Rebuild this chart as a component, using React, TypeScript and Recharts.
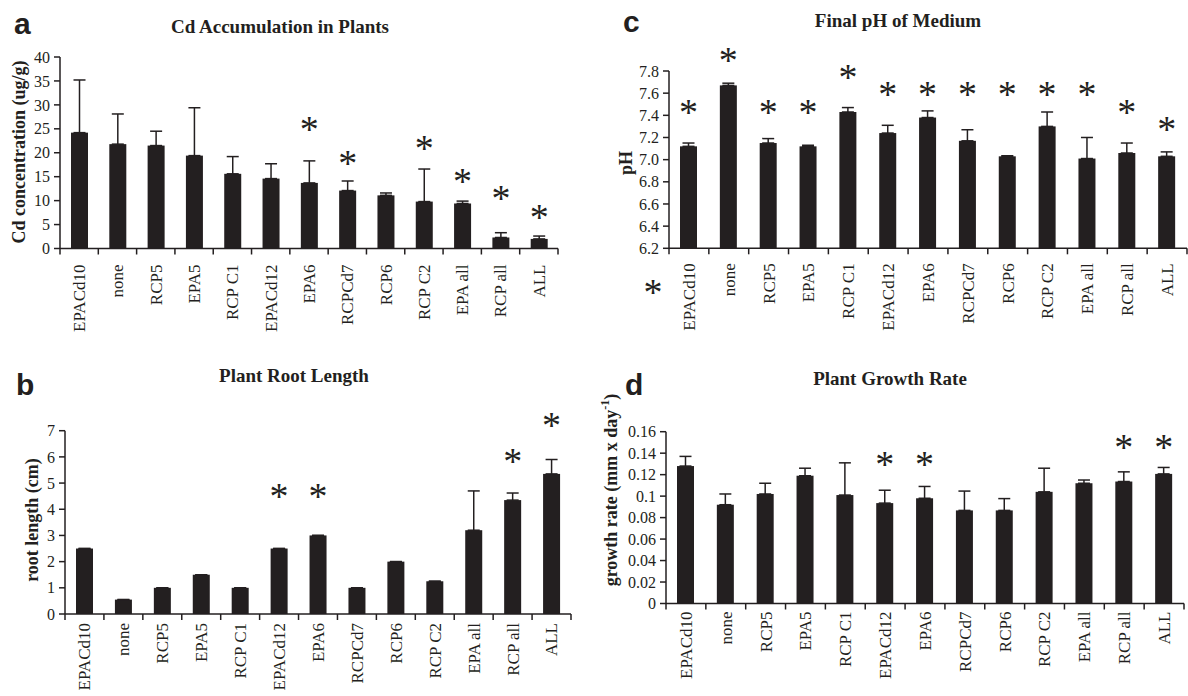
import React from "react";
import { ComposedChart, Bar, XAxis, YAxis, ErrorBar } from "recharts";

const INK = "#231f20";
const SERIF = "'Liberation Serif', 'Times New Roman', serif";
const SANS = "'Liberation Sans', Arial, sans-serif";

const categories = ["EPACd10", "none", "RCP5", "EPA5", "RCP C1", "EPACd12", "EPA6", "RCPCd7", "RCP6", "RCP C2", "EPA all", "RCP all", "ALL"];

// a: Cd accumulation
const cdValues = [24.2, 21.8, 21.5, 19.4, 15.6, 14.6, 13.7, 12.1, 11.1, 9.8, 9.4, 2.3, 2.0];
const cdErrors = [11.0, 6.3, 3.0, 10.0, 3.6, 3.1, 4.6, 2.0, 0.5, 6.8, 0.5, 1.0, 0.6];
const cdStars = [null, null, null, null, null, null, 26.0, 18.7, null, 22.0, 15.1, 11.4, 7.6];
const cdTicks = [0, 5, 10, 15, 20, 25, 30, 35, 40];

// c: final pH
const phValues = [7.12, 7.67, 7.15, 7.12, 7.43, 7.24, 7.38, 7.17, 7.03, 7.3, 7.01, 7.06, 7.03];
const phErrors = [0.03, 0.02, 0.04, 0.01, 0.04, 0.07, 0.06, 0.1, 0.005, 0.13, 0.19, 0.09, 0.04];
const phStars = [7.47, 7.94, 7.47, 7.47, 7.79, 7.63, 7.63, 7.63, 7.63, 7.63, 7.63, 7.47, 7.32];
const phTicks = [6.2, 6.4, 6.6, 6.8, 7.0, 7.2, 7.4, 7.6, 7.8];

// b: root length
const rootValues = [2.5, 0.55, 1.0, 1.5, 1.0, 2.5, 3.0, 1.0, 2.0, 1.25, 3.2, 4.35, 5.35];
const rootErrors = [0, 0, 0, 0, 0, 0, 0, 0, 0, 0, 1.5, 0.27, 0.55];
const rootStars = [null, null, null, null, null, 4.67, 4.67, null, null, null, null, 6.0, 7.37];
const rootTicks = [0, 1, 2, 3, 4, 5, 6, 7];

// d: growth rate
const growthValues = [0.128, 0.092, 0.102, 0.119, 0.101, 0.0935, 0.098, 0.0867, 0.0867, 0.104, 0.112, 0.1136, 0.1207];
const growthErrors = [0.009, 0.01, 0.01, 0.007, 0.03, 0.012, 0.011, 0.018, 0.011, 0.022, 0.003, 0.009, 0.006];
const growthStars = [null, null, null, null, null, 0.1337, 0.1337, null, null, null, null, 0.15, 0.15];
const growthTicks = [0, 0.02, 0.04, 0.06, 0.08, 0.1, 0.12, 0.14, 0.16];

const makeRows = (values: number[], errors: number[], stars: (number | null)[]) =>
  categories.map((name, i) => ({ name, mean: values[i], err: [0, errors[i]], star: stars[i] }));

const STAR_SIZE = 38;

function makeShape(base: number) {
  return (p: any) => {
    const { x, y, width, height, payload } = p;
    const cx = x + width / 2;
    let star = null;
    if (payload && payload.star != null && payload.mean > base) {
      const k = height / (payload.mean - base);
      const sy = y - (payload.star - payload.mean) * k;
      star = (
        <text x={cx} y={sy + STAR_SIZE * 0.46} textAnchor="middle" fontSize={STAR_SIZE} fontFamily={SERIF} fill={INK}>
          *
        </text>
      );
    }
    return (
      <g>
        <rect x={x} y={y} width={width} height={height} fill={INK} />
        {star}
      </g>
    );
  };
}

function makeXTick(band: number, gap: number) {
  return (p: any) => {
    const { x, y, payload, index } = p;
    const ty = y + gap;
    return (
      <g>
        <line x1={x - band / 2} x2={x - band / 2} y1={y} y2={y + 6} stroke={INK} strokeWidth={1.5} />
        {index === categories.length - 1 && (
          <line x1={x + band / 2} x2={x + band / 2} y1={y} y2={y + 6} stroke={INK} strokeWidth={1.5} />
        )}
        <text x={x} y={ty} transform={`rotate(-90, ${x}, ${ty})`} textAnchor="end" dy="0.35em" fontSize={17} fontFamily={SERIF} fill={INK}>
          {payload.value}
        </text>
      </g>
    );
  };
}

type PanelProps = {
  left: number;
  top: number;
  width: number;
  height: number;
  margin: { top: number; right: number; left: number; bottom: number };
  xHeight: number;
  rows: any[];
  ticks: number[];
  fmt: (v: number) => string;
  gap: number;
};

function Panel({ left, top, width, height, margin, xHeight, rows, ticks, fmt, gap }: PanelProps) {
  const band = (width - margin.left - margin.right - 50) / categories.length;
  const base = ticks[0];
  return (
    <div style={{ position: "absolute", left, top }}>
      <ComposedChart width={width} height={height} data={rows} margin={margin}>
        <XAxis
          dataKey="name"
          type="category"
          interval={0}
          height={xHeight}
          tickLine={false}
          tickSize={0}
          tickMargin={0}
          axisLine={{ stroke: INK, strokeWidth: 1.5 }}
          tick={makeXTick(band, gap)}
        />
        <YAxis
          width={50}
          type="number"
          domain={[ticks[0], ticks[ticks.length - 1]]}
          ticks={ticks}
          interval={0}
          tickFormatter={fmt}
          tickSize={6}
          tickMargin={4}
          axisLine={{ stroke: INK, strokeWidth: 1.5 }}
          tickLine={{ stroke: INK, strokeWidth: 1.5 }}
          tick={{ fill: INK, fontSize: 16, fontFamily: SERIF }}
        />
        <Bar dataKey="mean" fill={INK} barSize={17} isAnimationActive={false} shape={makeShape(base)}>
          <ErrorBar dataKey="err" width={6} stroke={INK} strokeWidth={1.5} direction="y" />
        </Bar>
      </ComposedChart>
    </div>
  );
}

function VLabel({ x, y, children }: { x: number; y: number; children: React.ReactNode }) {
  return (
    <text
      transform={`translate(${x}, ${y}) rotate(-90)`}
      textAnchor="middle"
      dominantBaseline="central"
      fontSize={18}
      fontWeight="bold"
      fontFamily={SERIF}
      fill={INK}
    >
      {children}
    </text>
  );
}

export default function App() {
  const titleStyle = { fontSize: 19, fontWeight: "bold", fontFamily: SERIF, fill: INK } as const;
  const letterStyle = { fontSize: 30, fontWeight: "bold", fontFamily: SANS, fill: INK } as const;
  return (
    <div style={{ position: "absolute", left: 0, top: 0, width: 1188, height: 696, background: "#fff", overflow: "hidden" }}>
      <Panel
        left={0}
        top={0}
        width={580}
        height={340}
        margin={{ top: 57, right: 22, left: 10, bottom: 11.5 }}
        xHeight={80}
        rows={makeRows(cdValues, cdErrors, cdStars)}
        ticks={cdTicks}
        fmt={(v) => String(v)}
        gap={16}
      />
      <Panel
        left={590}
        top={0}
        width={598}
        height={340}
        margin={{ top: 71, right: 1, left: 29, bottom: 11.7 }}
        xHeight={80}
        rows={makeRows(phValues, phErrors, phStars)}
        ticks={phTicks}
        fmt={(v) => v.toFixed(1)}
        gap={15}
      />
      <Panel
        left={0}
        top={340}
        width={590}
        height={356}
        margin={{ top: 90.7, right: 19, left: 15, bottom: 12 }}
        xHeight={70}
        rows={makeRows(rootValues, rootErrors, rootStars)}
        ticks={rootTicks}
        fmt={(v) => String(v)}
        gap={9}
      />
      <Panel
        left={590}
        top={340}
        width={598}
        height={356}
        margin={{ top: 91.7, right: 4, left: 26, bottom: 12.5 }}
        xHeight={80}
        rows={makeRows(growthValues, growthErrors, growthStars)}
        ticks={growthTicks}
        fmt={(v) => String(v)}
        gap={8}
      />
      <svg width={1188} height={696} style={{ position: "absolute", left: 0, top: 0, pointerEvents: "none" }}>
        <text x={14} y={34} {...letterStyle}>a</text>
        <text x={623} y={32} {...letterStyle}>c</text>
        <text x={16} y={395} {...letterStyle}>b</text>
        <text x={625} y={395} {...letterStyle}>d</text>

        <text x={280} y={33} textAnchor="middle" {...titleStyle}>Cd Accumulation in Plants</text>
        <text x={898} y={27} textAnchor="middle" {...titleStyle}>Final pH of Medium</text>
        <text x={294} y={382} textAnchor="middle" {...titleStyle}>Plant Root Length</text>
        <text x={890} y={385} textAnchor="middle" {...titleStyle}>Plant Growth Rate</text>

        <VLabel x={19} y={152}>Cd concentration (ug/g)</VLabel>
        <VLabel x={626} y={163}>pH</VLabel>
        <VLabel x={32} y={520}>root length (cm)</VLabel>
        <VLabel x={611} y={490}>
          growth rate (mm x day
          <tspan dy={-6} fontSize={12}>-1</tspan>
          <tspan dy={6}>)</tspan>
        </VLabel>

        <text x={653} y={288 + STAR_SIZE * 0.46} textAnchor="middle" fontSize={STAR_SIZE} fontFamily={SERIF} fill={INK}>*</text>
      </svg>
    </div>
  );
}
